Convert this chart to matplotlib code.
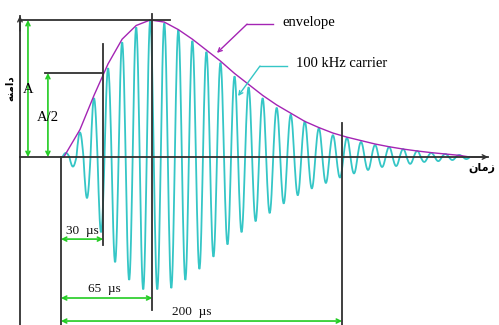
import numpy as np
import matplotlib.pyplot as plt

# carrier half-cycle peaks (normalised to A)
carrier_khz = 100
pos_peaks = [0.03, 0.18, 0.43, 0.65, 0.84, 0.95, 1.0, 0.98, 0.93, 0.85,
             0.77, 0.69, 0.59, 0.51, 0.43, 0.36, 0.31, 0.26, 0.21, 0.16,
             0.14, 0.11, 0.088, 0.073, 0.058, 0.044, 0.03, 0.022, 0.015]
neg_peaks = [-0.07, -0.30, -0.55, -0.77, -0.90, -0.97, -0.97, -0.96, -0.90, -0.82,
             -0.73, -0.64, -0.55, -0.47, -0.41, -0.34, -0.28, -0.23, -0.19, -0.15,
             -0.12, -0.095, -0.073, -0.066, -0.05, -0.036, -0.03, -0.022, -0.015]
start_us = 1.0

# envelope drawn over the carrier
env_t = [2, 13.5, 23.5, 33.5, 43.5, 53.5, 63.5, 73.5, 83.5, 93.5, 103.5, 113.5,
         123.5, 133.5, 143.5, 153.5, 163.5, 173.5, 183.5, 193.5, 203.5, 213.5,
         223.5, 233.5, 243.5, 253.5, 263.5, 273.5, 283.5, 291]
env_a = [0, 0.2, 0.45, 0.68, 0.86, 0.96, 1.0, 0.985, 0.93, 0.86, 0.78, 0.70,
         0.61, 0.53, 0.45, 0.38, 0.32, 0.26, 0.215, 0.175, 0.145, 0.12,
         0.095, 0.075, 0.058, 0.044, 0.032, 0.022, 0.012, 0]

half_level = 0.613   # the "A/2" line as drawn
marks_us = [30, 65, 200]
mark_labels = ["30  \u00b5s", "65  \u00b5s", "200  \u00b5s"]

cyan = "#35c6c6"
mag = "#a424b4"
green = "#22cc22"
dark = "#303030"
serif = "Liberation Serif"

fig = plt.figure(figsize=(4.99, 3.25), dpi=100)
ax = fig.add_axes([0, 0, 1, 1])
ax.set_xlim(-43.4, 311.7)
ax.set_ylim(-1.226, 1.146)
ax.axis("off")

# carrier: one sine lobe per half cycle, scaled to the read peak
half = 1000.0 / carrier_khz / 2
peaks = [p for pair in zip(pos_peaks, neg_peaks) for p in pair]
ts, ys = [], []
for k, p in enumerate(peaks):
    z = start_us + k * half
    t = np.linspace(z, z + half, 14)
    ts.extend(t)
    ys.extend(p * np.sin(np.pi * (t - z) / half))
ax.plot(ts, ys, color=cyan, lw=1.3, zorder=2)
ax.plot(env_t, env_a, color=mag, lw=1.0, zorder=3)

# axes
lk = dict(color=dark, lw=1.3, zorder=4)
ax.plot([-29.2, -29.2], [-1.3, 1.03], **lk)
ax.plot([-29.2, 304], [0, 0], **lk)
ax.annotate("", xy=(-29.2, 1.05), xytext=(-29.2, 0.9),
            arrowprops=dict(arrowstyle="->", color=dark, lw=1.0, mutation_scale=8))
ax.annotate("", xy=(306, 0), xytext=(290, 0),
            arrowprops=dict(arrowstyle="->", color=dark, lw=1.0, mutation_scale=8))

# guide lines
ax.plot([-27.8, 77.6], [1, 1], **lk)
ax.plot([-11.4, 30], [half_level, half_level], **lk)
ax.plot([30, 30], [0.825, -0.642], **lk)
ax.plot([65, 65], [1.044, -1.117], **lk)
ax.plot([0, 0], [0, -1.3], **lk)
ax.plot([200, 200], [0.248, -1.3], **lk)

# green dimension arrows
ak = dict(arrowstyle="<->", color=green, lw=1.2, mutation_scale=7,
          shrinkA=0, shrinkB=0)
ax.annotate("", xy=(-23.5, 1), xytext=(-23.5, 0), arrowprops=ak)
ax.annotate("", xy=(-9.3, half_level), xytext=(-9.3, 0), arrowprops=ak)
for m, lab, yy, ty in zip(marks_us, mark_labels, [-0.599, -1.029, -1.197],
                          [-0.54, -0.963, -1.13]):
    ax.annotate("", xy=(0, yy), xytext=(m, yy), arrowprops=ak)
    tx = {30: 15, 65: 30.6, 200: 93.2}[m]
    ax.text(tx, ty, lab, ha="center", va="center", fontsize=9.5,
            family=serif, color="#111111")

ax.text(-23.5, 0.49, "A", ha="center", va="center", fontsize=10.5, family=serif)
ax.text(-9.3, 0.29, "A/2", ha="center", va="center", fontsize=10.5, family=serif)
ax.text(-36.3, 0.50, "\uFEEA\uFEE8\uFEE3\uFE8D\uFEA9", rotation=90, ha="center",
        va="center", fontsize=7.5, fontweight="bold", family="DejaVu Sans")
ax.text(299.6, -0.08, "\uFEE5\uFE8E\uFEE3\uFEAF", ha="center", va="center",
        fontsize=8, fontweight="bold", family="DejaVu Sans")

# callouts
ax.text(176.5, 0.985, "envelope", ha="center", va="center", fontsize=10.5,
        family=serif)
ax.text(200, 0.68, "100 kHz carrier", ha="center", va="center", fontsize=10.5,
        family=serif)
ax.plot([150.9, 132.4], [0.97, 0.97], color=mag, lw=1.0)
ax.annotate("", xy=(111.0, 0.76), xytext=(132.4, 0.97),
            arrowprops=dict(arrowstyle="->", color=mag, lw=1.0, mutation_scale=7,
                            shrinkA=0, shrinkB=0))
ax.plot([160.9, 141.6], [0.664, 0.664], color=cyan, lw=1.0)
ax.annotate("", xy=(126.0, 0.445), xytext=(141.6, 0.664),
            arrowprops=dict(arrowstyle="->", color=cyan, lw=1.0, mutation_scale=7,
                            shrinkA=0, shrinkB=0))

fig.savefig("out.png", dpi=100)
